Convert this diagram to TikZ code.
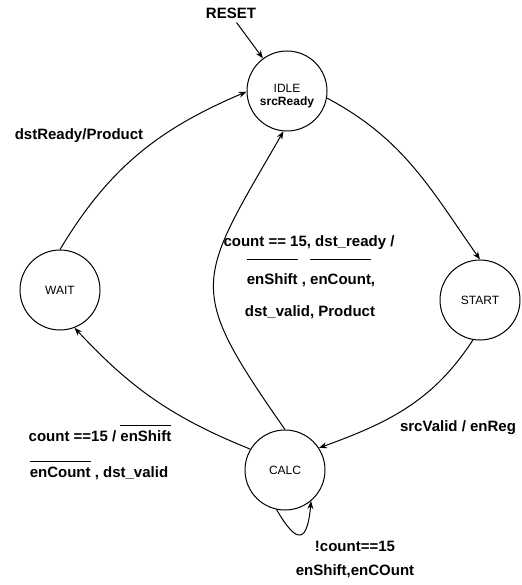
\documentclass[tikz,border=0pt]{standalone}
\usepackage{fontspec}
\setmainfont{Liberation Sans}
\usepackage{tikz}
\usetikzlibrary{arrows.meta, positioning}

\newsavebox\barbox
\newcommand{\ovbar}[2]{\sbox\barbox{#2}\rlap{\raisebox{#1}{\rule{\wd\barbox}{0.8pt}}}\usebox\barbox}

\begin{document}
\begin{tikzpicture}[x=1pt, y=-1pt, >={Stealth[length=8pt,width=6pt]}, line width=1pt,
					state/.style={circle, draw, minimum size=80pt, inner sep=0pt, align=center, font=\fontsize{12}{14}\selectfont},
					lbl/.style={inner sep=0pt, text height=11pt, text depth=3pt, font=\fontsize{15}{18}\selectfont\bfseries},
					arrow/.style={->}
				]
					\useasboundingbox (0,0) rectangle (521,585);
					
					% Nodes
					\node[state] (idle) at (287,91) {\rule{0pt}{19pt}IDLE\\[-1pt]\textbf{srcReady}};
					\node[state] (start) at (480,300) {START};
					\node[state] (calc) at (285,470) {CALC};
					\node[state] (wait) at (60,290) {WAIT};
					\node[lbl] (reset) at (231,15) {RESET};
					
					% Labels
					\node[lbl] (lblwait) at (79,136) {dstReady/Product};
					\node[lbl] (lblback1) at (309,242) {count == 15, dst\_ready /};
					\node[lbl] (lblback2) at (311,280) {\ovbar{24pt}{enShift} , \ovbar{24pt}{enCount},};
					\node[lbl] (lblback3) at (310,312) {dst\_valid, Product};
					\node[lbl] (lbldone1) at (100,437) {count ==15 / \ovbar{15pt}{enShift}};
					\node[lbl] (lbldone2) at (99,473) {\ovbar{15pt}{enCount} , dst\_valid};
					\node[lbl] (lblsrc) at (458,427) {srcValid / enReg};
					\node[lbl] (lblloop1) at (355,547) {!count==15};
					\node[lbl] (lblloop2) at (355,571) {enShift,enCOunt};
					
					% Arrows
					\draw[arrow] (reset) -- (idle);
					\draw[arrow] (idle.-10) to[out=-28, in=125] (start.north);
					\draw[arrow] (start.-100) to[out=-123, in=20] (calc.33);
					\draw[arrow] (calc.149) to[out=158, in=-47] (wait.-69);
					\draw[arrow] (wait.north) to[out=59, in=-157] (idle.181);
					\draw[arrow] (calc.north) to[out=125, in=-120, looseness=1.5] (idle.-95);
					\draw[arrow] (calc.-102) to[out=-60, in=-95, looseness=3] (calc.-50);
				\end{tikzpicture}
\end{document}
